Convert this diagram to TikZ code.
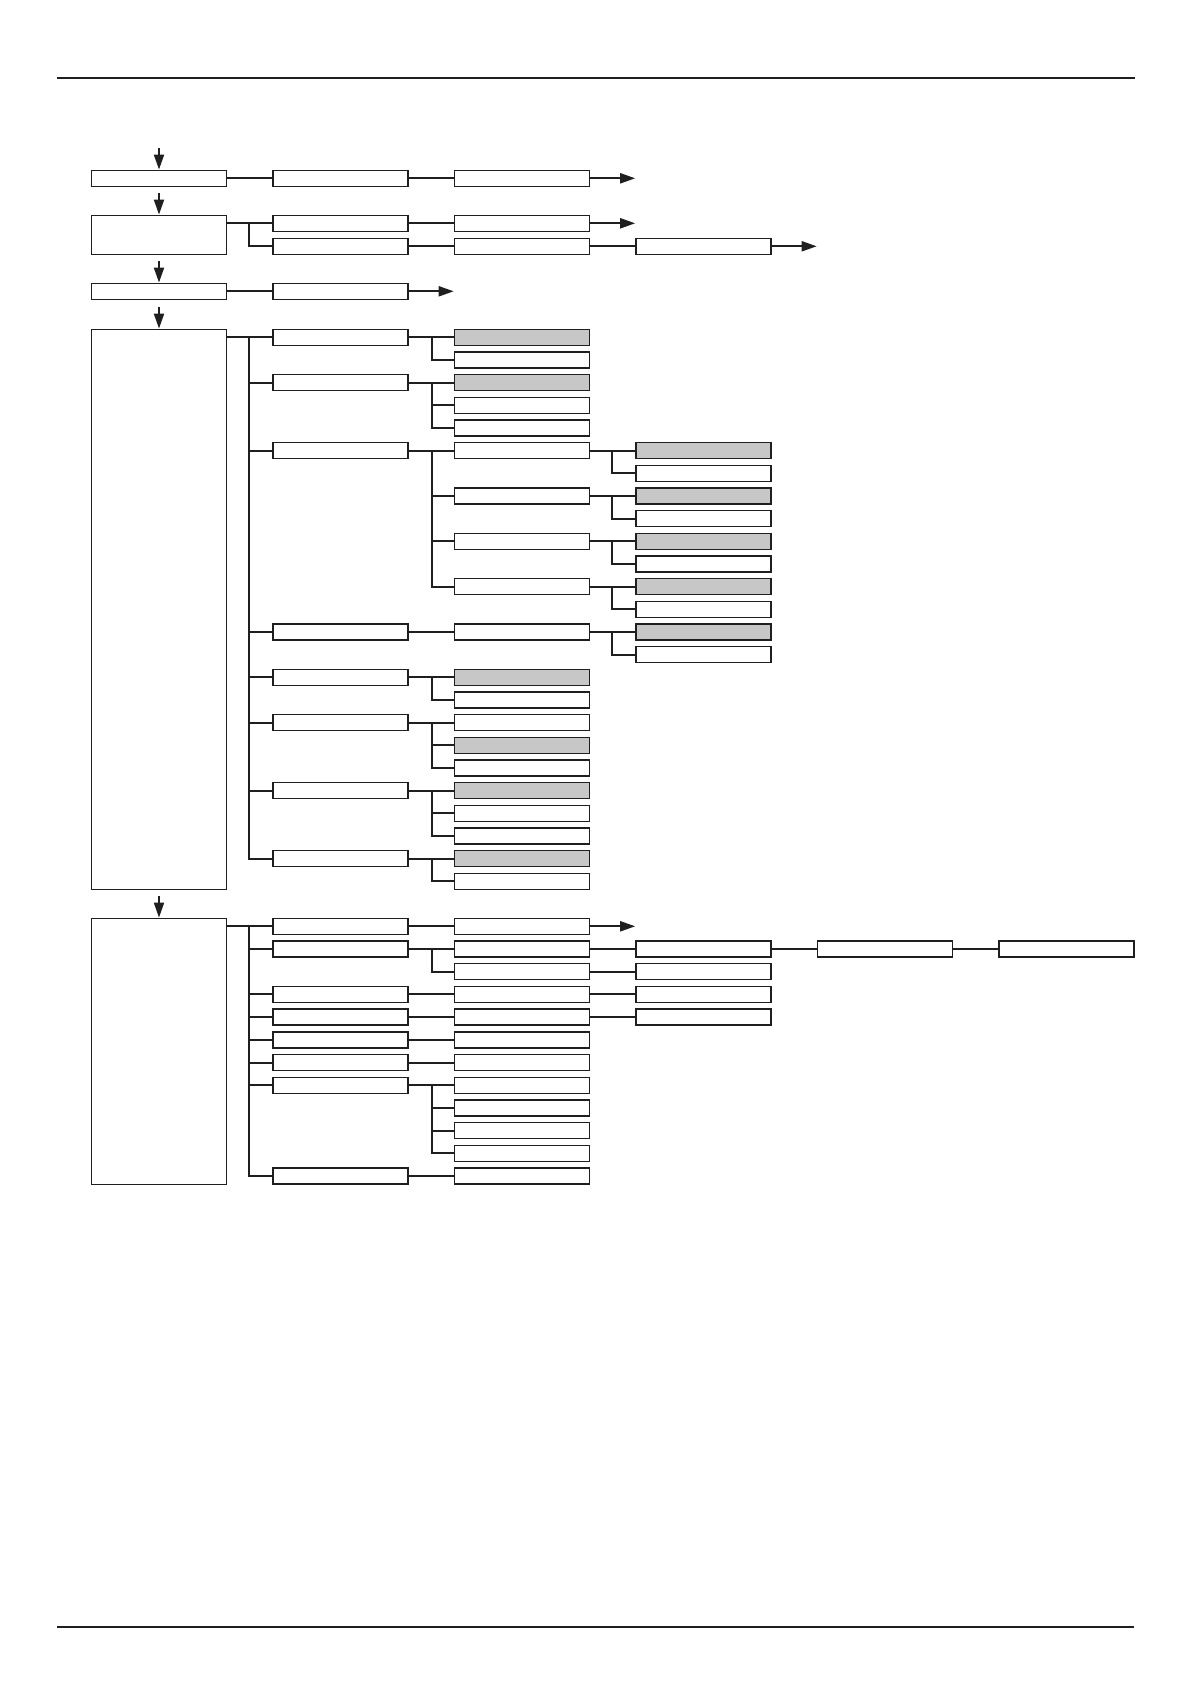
\documentclass[tikz,border=0pt]{standalone}
\usepackage{tikz}
\usetikzlibrary{arrows.meta, calc}
\definecolor{boxgrey}{RGB}{199,199,199}

\begin{document}
\begin{tikzpicture}[x=0.5pt, y=-0.5pt,
    bx/.style={draw=black!88, line width=0.7pt, minimum width=67.5pt, minimum height=8pt, inner sep=0pt},
    gbx/.style={bx, fill=boxgrey},
    ln/.style={black!88, line width=1pt},
    arr/.style={ln, -{Triangle[length=7.5pt, width=5pt]}},
    hrule/.style={black!88, line width=1pt}]
    \useasboundingbox (0,0) rectangle (1191,1684);
    \draw[hrule] (57,77.7) -- (1135,77.7);
    \draw[hrule] (57,1627) -- (1134,1627);
    % left column
    \node[bx] (A) at (159,178.3) {};
    \node[bx, minimum height=19.5pt] (B) at (159,234.8) {};
    \node[bx] (C) at (159,291.3) {};
    \node[bx, minimum height=280pt] (D) at (159,609.3) {};
    \node[bx, minimum height=133pt] (E) at (159,1051.3) {};
    \foreach \n in {A,B,C,D,E} {
        \path (\n.north) ++(0,-21.5) coordinate (in\n);
        \draw[arr] (in\n) -- (\n.north);
    }
    % top rows
    \node[bx] (a1) at (340.5,178.3) {};
    \node[bx] (a2) at (522,178.3) {};
    \node[bx] (b1-0) at (340.5,223.3) {};
    \node[bx] (b2-0) at (522,223.3) {};
    \node[bx] (b1-1) at (340.5,246.3) {};
    \node[bx] (b2-1) at (522,246.3) {};
    \node[bx] (b3-1) at (703.5,246.3) {};
    \node[bx] (c1) at (340.5,291.3) {};
    \path (a2.east) ++(45,0) coordinate (outA);
    \path (b2-0.east) ++(45,0) coordinate (outB0);
    \path (b3-1.east) ++(45,0) coordinate (outB1);
    \path (c1.east) ++(45,0) coordinate (outC);
    \draw[ln] (A) -- (a1);
    \draw[ln] (a1) -- (a2);
    \draw[arr] (a2) -- (outA);
    \foreach \k in {0,1}
        \draw[ln] (b1-0.west -| B.east) -- ++(22,0) |- (b1-\k.west);
    \draw[ln] (b1-0) -- (b2-0);
    \draw[arr] (b2-0) -- (outB0);
    \draw[ln] (b1-1) -- (b2-1);
    \draw[ln] (b2-1) -- (b3-1);
    \draw[arr] (b3-1) -- (outB1);
    \draw[ln] (C) -- (c1);
    \draw[arr] (c1) -- (outC);
    % block D
    \foreach \c/\k/\s in {1/0/bx, 2/0/gbx, 2/1/bx, 1/2/bx, 2/2/gbx, 2/3/bx, 2/4/bx,
        1/5/bx, 2/5/bx, 3/5/gbx, 3/6/bx, 2/7/bx, 3/7/gbx, 3/8/bx, 2/9/bx, 3/9/gbx, 3/10/bx,
        2/11/bx, 3/11/gbx, 3/12/bx, 1/13/bx, 2/13/bx, 3/13/gbx, 3/14/bx,
        1/15/bx, 2/15/gbx, 2/16/bx, 1/17/bx, 2/17/bx, 2/18/gbx, 2/19/bx,
        1/20/bx, 2/20/gbx, 2/21/bx, 2/22/bx, 1/23/bx, 2/23/gbx, 2/24/bx}
        \node[\s] (d\c-\k) at ({159+181.5*\c},{337.3+22.67*\k}) {};
    \foreach \k in {0,2,5,13,15,17,20,23}
        \draw[ln] (d1-0.west -| D.east) -- ++(22,0) |- (d1-\k.west);
    \foreach \p/\k in {0/0,0/1,2/2,2/3,2/4,5/5,5/7,5/9,5/11,13/13,15/15,15/16,
        17/17,17/18,17/19,20/20,20/21,20/22,23/23,23/24}
        \draw[ln] (d1-\p.east) -- ++(23,0) |- (d2-\k.west);
    \foreach \p/\k in {5/5,5/6,7/7,7/8,9/9,9/10,11/11,11/12,13/13,13/14}
        \draw[ln] (d2-\p.east) -- ++(22,0) |- (d3-\k.west);
    % block E
    \foreach \k in {0,1,3,4,5,6,7,11}
        \node[bx] (e1-\k) at (340.5,{926.3+22.7*\k}) {};
    \foreach \k in {0,...,11}
        \node[bx] (e2-\k) at (522,{926.3+22.7*\k}) {};
    \foreach \k in {1,...,4}
        \node[bx] (e3-\k) at (703.5,{926.3+22.7*\k}) {};
    \node[bx] (e4-1) at (885,949) {};
    \node[bx] (e5-1) at (1066.5,949) {};
    \path (e2-0.east) ++(45,0) coordinate (outE);
    \foreach \k in {0,1,3,4,5,6,7,11}
        \draw[ln] (e1-0.west -| E.east) -- ++(22,0) |- (e1-\k.west);
    \foreach \p/\k in {0/0,1/1,1/2,3/3,4/4,5/5,6/6,7/7,7/8,7/9,7/10,11/11}
        \draw[ln] (e1-\p.east) -- ++(23,0) |- (e2-\k.west);
    \draw[arr] (e2-0) -- (outE);
    \foreach \k in {1,...,4}
        \draw[ln] (e2-\k) -- (e3-\k);
    \draw[ln] (e3-1) -- (e4-1);
    \draw[ln] (e4-1) -- (e5-1);
\end{tikzpicture}
\end{document}
